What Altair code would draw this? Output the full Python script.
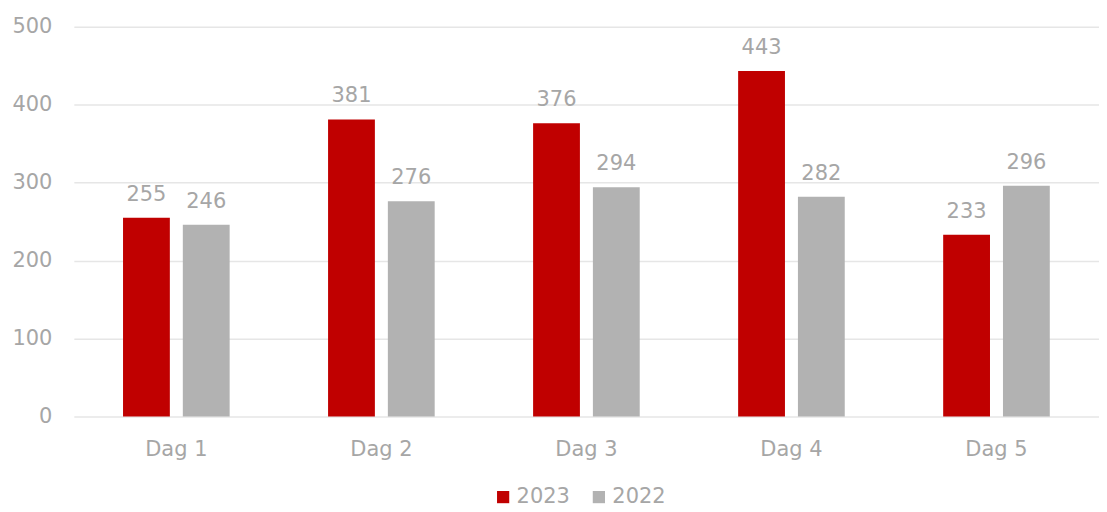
import altair as alt
import pandas as pd

days = ["Dag 1", "Dag 2", "Dag 3", "Dag 4", "Dag 5"]
series_2023 = [255, 381, 376, 443, 233]
series_2022 = [246, 276, 294, 282, 296]
years = ["2023", "2022"]
colors = ["#C00000", "#B2B2B2"]

rows = []
for d, a, b in zip(days, series_2023, series_2022):
    rows.append({"dag": d, "jaar": "2023", "waarde": a})
    rows.append({"dag": d, "jaar": "2022", "waarde": b})
df = pd.DataFrame(rows)

FONT = "DejaVu Sans"
TXT = "#A6A6A6"

x = alt.X("dag:N", sort=days, title=None,
          scale=alt.Scale(paddingInner=0.48, paddingOuter=0.24),
          axis=alt.Axis(labelAngle=0, labelFontSize=21, labelColor=TXT, labelFont=FONT,
                        labelPadding=22, ticks=False, domain=False, grid=False))
xo = alt.XOffset("jaar:N", sort=years, scale=alt.Scale(paddingInner=0.217, paddingOuter=0))
y = alt.Y("waarde:Q", title=None,
          scale=alt.Scale(domain=[0, 500], nice=False),
          axis=alt.Axis(values=[0, 100, 200, 300, 400, 500], labelFontSize=21, labelColor=TXT,
                        labelFont=FONT, labelPadding=22, ticks=False, domain=False,
                        gridColor="#E6E6E6", gridWidth=1.5))

base = alt.Chart(df).encode(x=x, xOffset=xo, y=y)

bars = base.mark_bar().encode(
    color=alt.Color("jaar:N", sort=years, scale=alt.Scale(domain=years, range=colors),
                    legend=alt.Legend(title=None, orient="none", legendX=420, legendY=461,
                                      direction="horizontal", symbolType="square", symbolSize=150,
                                      symbolStrokeWidth=0, labelFontSize=21, labelColor=TXT,
                                      labelFont=FONT, columnPadding=18, labelOffset=3))
)
labels = base.mark_text(baseline="alphabetic", dy=-17, fontSize=21, color=TXT, font=FONT).encode(
    text="waarde:Q"
)

chart = (bars + labels).properties(
    width=1028, height=391,
    autosize=alt.AutoSizeParams(type="none"),
    padding={"left": 66, "top": 18, "right": 0, "bottom": 94},
).configure_view(stroke=None)

chart.save("out.html", embed_options={"renderer": "svg", "actions": False})
